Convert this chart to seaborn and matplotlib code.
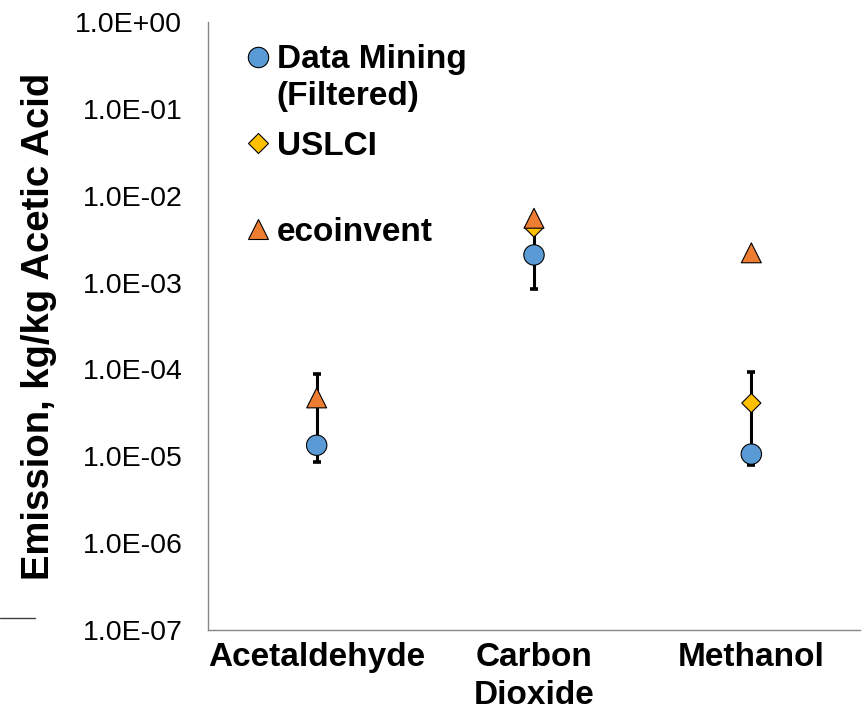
import numpy as np
import pandas as pd
import matplotlib
matplotlib.use("Agg")
import matplotlib.pyplot as plt
import seaborn as sns
from matplotlib.lines import Line2D
from matplotlib.ticker import NullLocator

# ---- data ----
categories = ["Acetaldehyde", "Carbon\nDioxide", "Methanol"]
data_mining = [1.34e-5, 2.08e-3, 1.06e-5]
data_mining_low = [8.6e-6, 8.4e-4, 7.9e-6]
data_mining_high = [8.9e-5, 4.0e-3, 9.3e-5]
uslci = [np.nan, 4.3e-3, 4.1e-5]
ecoinvent = [4.7e-5, 5.5e-3, 2.2e-3]
series_names = ["Data Mining", "USLCI", "ecoinvent"]
legend_labels = ["Data Mining", "USLCI", "ecoinvent"]
y_ticks = [1e-7, 1e-6, 1e-5, 1e-4, 1e-3, 1e-2, 1e-1, 1e0]
y_tick_labels = ["1.0E-07", "1.0E-06", "1.0E-05", "1.0E-04",
                 "1.0E-03", "1.0E-02", "1.0E-01", "1.0E+00"]
y_label = "Emission, kg/kg Acetic Acid"

colors = {"Data Mining": "#5B9BD5", "USLCI": "#FFC000", "ecoinvent": "#ED7D31"}
markers = {"Data Mining": "o", "USLCI": "D", "ecoinvent": "^"}
sizes = {"Data Mining": 215, "USLCI": 95, "ecoinvent": 205}

rows = []
for name, vals in zip(series_names, [data_mining, uslci, ecoinvent]):
    for c, v in zip(categories, vals):
        rows.append({"category": c, "source": name, "value": v})
df = pd.DataFrame(rows).dropna()

sns.set_theme(style="white")
plt.rcParams["font.family"] = ["Liberation Sans", "DejaVu Sans"]

fig = plt.figure(figsize=(8.65, 7.15), dpi=100)
ax = fig.add_axes([208 / 865, 1 - 630 / 715, 652 / 865, 608 / 715])

# error bars on the data-mining series (drawn first, behind markers)
yerr = np.array([np.array(data_mining) - np.array(data_mining_low),
                 np.array(data_mining_high) - np.array(data_mining)])
ax.errorbar(categories, data_mining, yerr=yerr, fmt="none", ecolor="black",
            elinewidth=2.2, capsize=2.8, capthick=2.6, zorder=1)

sns.scatterplot(data=df, x="category", y="value", hue="source", style="source",
                size="source", hue_order=series_names, style_order=series_names,
                size_order=series_names, palette=colors, markers=markers,
                sizes=sizes, edgecolor="black", linewidth=0.8, alpha=1,
                legend=False, ax=ax, zorder=3)

ax.set_yscale("log")
ax.set_ylim(1e-7, 1e0)
ax.set_xlim(-0.5, 2.5)
ax.set_yticks(y_ticks)
ax.set_yticklabels(y_tick_labels)
ax.yaxis.set_minor_locator(NullLocator())
ax.tick_params(axis="y", length=0, pad=18.5, labelsize=20.5, labelcolor="black")
ax.tick_params(axis="x", length=0, pad=8.5, labelsize=24, labelcolor="black")
for t in ax.get_xticklabels():
    t.set_fontweight("bold")
    t.set_linespacing(1.3)

ax.set_xlabel("")
ax.set_ylabel(y_label, fontsize=27.5, fontweight="bold", color="black")
ax.yaxis.set_label_coords(-0.232, 0.5)

for s in ["top", "right"]:
    ax.spines[s].set_visible(False)
for s in ["left", "bottom"]:
    ax.spines[s].set_color("#868686")
    ax.spines[s].set_linewidth(1.0)

handles = [Line2D([], [], linestyle="none", marker=markers[n],
                  markerfacecolor=colors[n], markeredgecolor="black",
                  markeredgewidth=0.8, markersize=np.sqrt(sizes[n]))
           for n in series_names]
leg = ax.legend(handles, legend_labels, loc="upper left",
                bbox_to_anchor=(0.056, 0.963), frameon=False, borderpad=0,
                borderaxespad=0, handlelength=0.8, handletextpad=0.17,
                labelspacing=1.66, prop={"size": 24, "weight": "bold"},
                labelcolor="black")
ax.annotate("(Filtered)", xy=(0, 0), xycoords=leg.get_texts()[0],
            xytext=(0, -4), textcoords="offset points", ha="left", va="top",
            fontsize=24, fontweight="bold", color="black", zorder=10)

fig.add_artist(Line2D([0, 35 / 865], [1 - 618 / 715, 1 - 618 / 715],
                      transform=fig.transFigure, color="#404040", lw=1))

fig.savefig("out.png", dpi=100)
